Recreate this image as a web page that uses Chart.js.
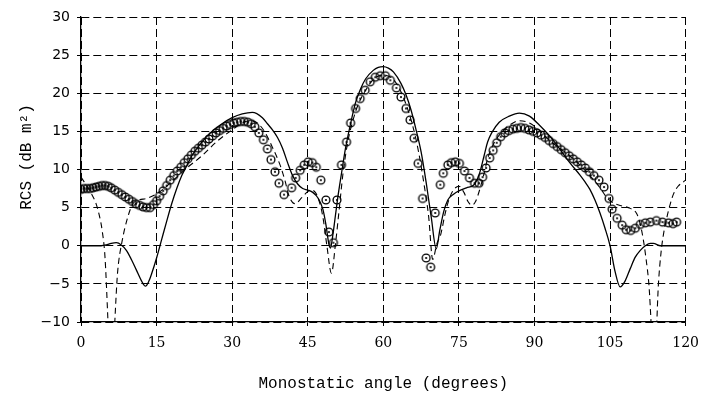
<!DOCTYPE html>
<html>
<head>
<meta charset="utf-8">
<script src="https://cdn.jsdelivr.net/npm/chart.js@4.4.1/dist/chart.umd.min.js"></script>
<style>
  html, body { margin: 0; padding: 0; background: #fff; }
  #wrap { width: 708px; height: 393px; }
</style>
</head>
<body>
<div id="wrap"><canvas id="chart" width="708" height="393"></canvas></div>
<script>
// axis ticks
const xTicks = [0, 15, 30, 45, 60, 75, 90, 105, 120];
const yTicks = [-10, -5, 0, 5, 10, 15, 20, 25, 30];
const xTitle = 'Monostatic angle (degrees)';
const yTitle = 'RCS (dB m\u00b2)';

// measured RCS (circles)
const measAngle = [
  0, 0.6, 1.2, 1.8, 2.4, 3, 3.6, 4.2, 4.8, 5.4, 6, 6.7, 7.4, 8.1, 8.8, 9.5, 10.2, 10.9, 11.6, 12.3,
  13, 13.7, 14.4, 15, 15.6, 16.3, 17, 17.7, 18.4, 19.1, 19.8, 20.5, 21.2, 21.9, 22.6, 23.3, 24, 24.7,
  25.4, 26.1, 26.8, 27.5, 28.2, 28.9, 29.6, 30.3, 31, 31.7, 32.4, 33.1, 33.8, 34.5, 35.3, 36.2, 37,
  37.7, 38.5, 39.3, 40.3, 41.8, 42.6, 43.5, 44.3, 45.1, 45.9, 46.7, 47.6, 48.6, 49.2, 50.1, 50.8,
  51.7, 52.7, 53.5, 54.5, 55.4, 56.4, 57.4, 58.4, 59.4, 60.4, 61.4, 62.6, 63.5, 64.5, 65.3, 66.1,
  66.9, 67.8, 68.5, 69.4, 70.3, 71.3, 71.9, 72.8, 73.5, 74.3, 75.1, 76.1, 77.1, 78.1, 79, 79.7,
  80.4, 81.1, 81.8, 82.5, 83.3, 84.1, 84.9, 85.7, 86.5, 87.3, 88.1, 88.9, 89.7, 90.5, 91.3, 92.1,
  92.9, 93.7, 94.5, 95.3, 96.1, 96.9, 97.7, 98.5, 99.3, 100.1, 100.9, 101.8, 102.8, 103.8, 104.8,
  105.4, 106.4, 107.4, 108.2, 109.1, 110, 111, 112, 113, 114.2, 115.4, 116.6, 117.5, 118.2
];
const measRcs = [
  7.4, 7.5, 7.5, 7.5, 7.6, 7.7, 7.8, 7.9, 7.9, 7.8, 7.6, 7.3, 7.0, 6.7, 6.4, 6.1, 5.8, 5.5, 5.3, 5.1,
  5.0, 5.0, 5.4, 5.9, 6.5, 7.2, 7.9, 8.6, 9.2, 9.8, 10.3, 10.9, 11.4, 11.9, 12.4, 12.8, 13.2, 13.6,
  14.0, 14.4, 14.8, 15.1, 15.4, 15.7, 15.9, 16.1, 16.2, 16.3, 16.3, 16.2, 16.0, 15.6, 14.8, 13.9, 12.7,
  11.3, 9.7, 8.2, 6.7, 7.6, 8.9, 9.9, 10.6, 11.0, 10.9, 10.3, 8.6, 6.0, 1.8, 0.4, 6.0,
  10.6, 13.6, 16.1, 18.0, 19.3, 20.4, 21.5, 22.1, 22.3, 22.3, 21.7, 20.7, 19.5, 18.0, 16.5, 14.1,
  10.8, 6.2, -1.6, -2.8, 4.3, 8.0, 9.5, 10.6, 10.9, 11.0, 10.8, 9.8, 8.9, 8.2, 8.2, 9.0,
  10.2, 11.5, 12.5, 13.5, 14.3, 14.8, 15.1, 15.3, 15.4, 15.5, 15.4, 15.2, 15.0, 14.8, 14.5, 14.2,
  13.8, 13.4, 13.0, 12.6, 12.2, 11.8, 11.4, 11.0, 10.6, 10.2, 9.7, 9.2, 8.6, 7.7, 6.2,
  4.8, 3.6, 2.7, 2.1, 2.0, 2.3, 2.8, 3.0, 3.1, 3.3, 3.1, 3.0, 2.9, 3.1
];

// theory, solid curve
const solidAngle = [
  0, 2, 4, 5, 6, 7, 8, 9, 10, 11, 12, 12.8, 13.5, 14, 15, 16, 17, 18, 19, 20, 21, 22, 24, 26, 28,
  30, 32, 34, 36, 37, 38, 39, 40, 41, 42, 43, 44, 45, 46, 47, 48, 48.6, 49.2, 49.5, 50, 50.5, 51,
  51.7, 52.5, 53.5, 54.5, 55.5, 56.5, 58, 59, 60, 61, 62, 63.5, 64.5, 65.5, 66.5, 67.5, 68.5, 69.5,
  70.5, 71.2, 72, 72.8, 74, 75, 76.5, 78, 79, 80, 80.7, 81.5, 83, 85, 87, 89, 91, 93, 95, 97, 99,
  100, 101, 102, 103, 104, 105, 106, 107, 108, 109, 110, 111, 112, 113, 113.6, 115, 117, 120
];
const solidRcs = [
  0, 0, 0, 0.1, 0.3, 0.4, 0.1, -0.6, -1.8, -3.2, -4.6, -5.3, -4.6, -3.7, -1.6, 0.8, 3.2, 5.5, 7.5, 9.2, 10.5, 11.8, 13.6, 15.0, 16.0,
  16.8, 17.3, 17.5, 16.8, 16.0, 15.2, 14.2, 12.8, 10.9, 9.2, 8.1, 7.5, 7.3, 7.0, 6.3, 4.8, 2.8, 0.2, -0.3, 1.5, 4.0, 6.5,
  9.5, 12.8, 16.0, 18.8, 20.6, 21.9, 23.0, 23.4, 23.5, 23.3, 22.8, 21.3, 19.8, 17.8, 15.2, 12.3, 8.3, 3.8,
  -0.4, 2.0, 4.5, 6.0, 6.8, 7.2, 7.6, 8.0, 9.3, 11.8, 13.6, 14.8, 16.2, 17.0, 17.4, 17.0, 15.8, 14.4, 12.7, 10.9, 9.3,
  8.4, 7.4, 6.0, 4.3, 2.3, 0, -3.4, -5.4, -4.6, -3.0, -1.5, -0.6, 0.0, 0.3, 0.3, 0.0, 0, 0
];

// theory, dashed curve
const dashAngle = [
  0, 1, 2, 3, 3.7, 4.2, 4.7, 6.0, 7.3, 8.1, 9.3, 10.3, 11.5, 13, 15, 17, 19, 21, 24, 27, 30, 32,
  33.5, 35, 36.5, 38, 39.5, 40.5, 41.3, 42.5, 43.8, 45, 45.8, 46.5, 47.2, 48, 48.8, 49.7, 50.5,
  51.2, 52, 53, 54, 55, 56.5, 58, 60, 62, 63.5, 65, 66, 67, 68, 69, 69.8, 70.6, 71.4, 72.2, 72.8,
  73.8, 75, 76, 76.8, 77.6, 78.3, 79.1, 80, 80.7, 82, 83.5, 85, 87, 89, 91, 93, 95, 97, 99, 101,
  103, 104.5, 106, 107.5, 109, 110.3, 111, 111.6, 112.1, 112.7, 113.8, 114.6, 115.1, 115.6, 116.3,
  117, 117.6, 118.5, 119.6, 120
];
const dashRcs = [
  9.0, 8.0, 6.9, 5.5, 3.8, 2.0, -0.9, -16, -3.2, 0.4, 3.8, 5.5, 6.0, 6.2, 6.8, 7.8, 9.0, 10.2, 11.8, 13.7, 15.2, 16.1,
  16.4, 16.1, 14.9, 12.9, 10.6, 8.5, 6.5, 5.5, 6.3, 7.1, 7.3, 7.0, 6.0, 3.8, 0, -3.6, 0.2,
  4.5, 9.5, 13.8, 16.5, 18.5, 20.4, 21.8, 22.4, 21.8, 20.2, 17.6, 15.3, 12.3, 8.4, 3.8, -1.8, 0.2, 1.5, 4.0, 5.6,
  7.2, 7.8, 7.0, 5.8, 5.3, 5.8, 7.3, 9.5, 11.4, 13.5, 14.9, 15.8, 16.4, 16.1, 15.1, 13.8, 12.8, 11.8, 10.6, 9.2,
  7.6, 6.2, 5.5, 5.2, 4.9, 4.2, 2.8, 0.8, -1.5, -5, -16, -5, -1.0, 1.5, 3.8,
  5.6, 6.8, 7.8, 8.4, 8.6
];

const toPts = (xs, ys) => xs.map((x, i) => ({ x, y: ys[i] }));

function ringDot(r) {
  const c = document.createElement('canvas');
  const s = Math.ceil(2 * r + 4);
  c.width = s; c.height = s;
  const g = c.getContext('2d');
  g.strokeStyle = '#000';
  g.lineWidth = 1.35;
  g.beginPath(); g.arc(s / 2, s / 2, r, 0, Math.PI * 2); g.stroke();
  g.fillStyle = '#000';
  g.beginPath(); g.arc(s / 2, s / 2, 1.1, 0, Math.PI * 2); g.fill();
  return c;
}

const tickFont = { family: 'DejaVu Sans', size: 14 };
const monoFont = { family: 'Liberation Mono', size: 16 };

// y title sits a bit above the plot centre in the original
const yTitlePlugin = {
  id: 'yTitle',
  afterDraw(chart) {
    const ctx = chart.ctx;
    ctx.save();
    ctx.translate(27, 157);
    ctx.rotate(-Math.PI / 2);
    ctx.font = '16px "Liberation Mono"';
    ctx.fillStyle = '#000';
    ctx.textAlign = 'center';
    ctx.textBaseline = 'middle';
    ctx.fillText(yTitle, 0, 0);
    ctx.restore();
  },
};

new Chart(document.getElementById('chart'), {
  type: 'scatter',
  data: {
    datasets: [
      {
        label: 'Measured',
        data: toPts(measAngle, measRcs),
        showLine: false,
        pointStyle: ringDot(3.9),
        pointRadius: 4,
        order: 0,
      },
      {
        label: 'Solid',
        data: toPts(solidAngle, solidRcs),
        showLine: true,
        borderColor: '#000',
        borderWidth: 1.3,
        pointRadius: 0,
        cubicInterpolationMode: 'monotone',
        order: 1,
      },
      {
        label: 'Dashed',
        data: toPts(dashAngle, dashRcs),
        showLine: true,
        borderColor: '#000',
        borderWidth: 1.1,
        borderDash: [6, 4],
        pointRadius: 0,
        cubicInterpolationMode: 'monotone',
        order: 2,
      },
    ],
  },
  options: {
    responsive: false,
    animation: false,
    devicePixelRatio: 1,
    layout: { padding: { top: 17, right: 19, left: 0, bottom: 0 } },
    plugins: { legend: { display: false }, tooltip: { enabled: false } },
    scales: {
      x: {
        type: 'linear',
        min: 0, max: 120,
        afterBuildTicks: s => { s.ticks = xTicks.map(v => ({ value: v })); },
        afterFit: s => { s.height = 71; },
        grid: { color: '#000', lineWidth: 1, tickLength: 4, tickColor: '#000', tickBorderDash: [] },
        border: { display: true, color: '#000', width: 1.3, dash: [8, 4] },
        ticks: { color: '#000', font: { family: 'DejaVu Serif', size: 14 }, padding: 9, maxRotation: 0 },
        title: { display: true, text: xTitle, color: '#000', font: monoFont, padding: { top: 0, bottom: 0 } },
      },
      y: {
        type: 'linear',
        min: -10, max: 30,
        afterBuildTicks: s => { s.ticks = yTicks.map(v => ({ value: v })); },
        afterFit: s => { s.width = 81; },
        grid: { color: '#000', lineWidth: 1, tickLength: 4, tickColor: '#000', tickBorderDash: [] },
        border: { display: true, color: '#000', width: 1.3, dash: [8, 4] },
        ticks: { color: '#000', font: tickFont, padding: 7, callback: v => String(v).replace('-', '\u2212') },
        title: { display: false },
      },
    },
  },
  plugins: [yTitlePlugin],
});
</script>
</body>
</html>
